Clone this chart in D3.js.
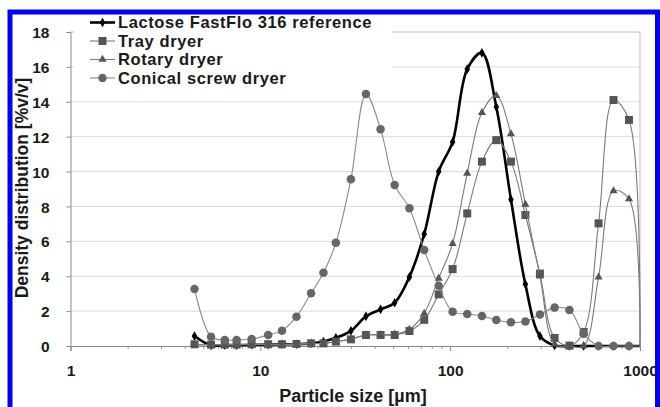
<!DOCTYPE html>
<html>
<head>
<meta charset="utf-8">
<script src="https://cdn.jsdelivr.net/npm/d3@7"></script>
<style>
	body { margin:0; background:#fff; }
	svg text { font-family:'Liberation Sans', Arial, sans-serif; font-weight:bold; fill:#1a1a1a; }
</style>
</head>
<body>
<svg id="chart" width="660" height="407"></svg>
<script>
// particle size classes [um]
var sizes = [4.5, 5.5, 6.5, 7.5, 9, 11, 13, 15.5, 18.5, 21.5, 25, 30, 36, 43, 51, 61, 73, 87, 103, 123, 147, 175, 209, 249, 297, 355, 425, 505, 605, 725, 875, 1000];

var lactose = [0.57, 0.03, 0.05, 0.05, 0.07, 0.08, 0.1, 0.1, 0.15, 0.26, 0.47, 0.87, 1.7, 2.1, 2.48, 3.96, 6.42, 10.0, 11.7, 15.87, 16.8, 13.7, 8.4, 3.54, 0.57, 0.03, 0, 0, 0, 0, 0, 0];
var tray = [0.1, 0.08, 0.08, 0.08, 0.1, 0.1, 0.1, 0.12, 0.15, 0.15, 0.25, 0.38, 0.63, 0.63, 0.63, 0.86, 1.5, 2.96, 4.41, 7.6, 10.57, 11.8, 10.57, 7.51, 4.15, 0.46, 0.02, 0.8, 7.03, 14.1, 12.96, 0];
var rotary = [0.08, 0.06, 0.06, 0.06, 0.08, 0.08, 0.08, 0.1, 0.12, 0.15, 0.25, 0.4, 0.63, 0.65, 0.68, 0.95, 1.87, 3.88, 5.87, 9.9, 13.38, 14.35, 12.16, 8.12, 4.0, 0.1, 0, 0, 3.95, 8.89, 8.43, 0];
var conical = [3.27, 0.53, 0.34, 0.34, 0.4, 0.63, 0.88, 1.68, 3.02, 4.2, 5.92, 9.56, 14.45, 12.43, 9.23, 7.9, 5.5, 3.45, 1.97, 1.83, 1.72, 1.49, 1.36, 1.4, 1.8, 2.2, 2.06, 0.7, 0, 0, 0, 0];

var seriesNames = ['Lactose FastFlo 316 reference', 'Tray dryer', 'Rotary dryer', 'Conical screw dryer'];
var yTicks = [0, 2, 4, 6, 8, 10, 12, 14, 16, 18];
var xTicks = [1, 10, 100, 1000];

var svg = d3.select('#chart');
var x = d3.scaleLog().domain([1, 1000]).range([70.5, 640]);
var y = d3.scaleLinear().domain([0, 18]).range([346, 32]);

var series = [
	{ name:seriesNames[0], values:lactose, line:'#000', width:2.6, marker:'diamond', fill:'#000', size:7 },
	{ name:seriesNames[1], values:tray, line:'#7a7a7a', width:1.1, marker:'square', fill:'#555', size:8 },
	{ name:seriesNames[2], values:rotary, line:'#7a7a7a', width:1.1, marker:'triangle', fill:'#555', size:8 },
	{ name:seriesNames[3], values:conical, line:'#8a8a8a', width:1.1, marker:'circle', fill:'#666', size:8.5 }
];

// gridlines
svg.append('g').selectAll('line').data(yTicks.slice(1)).enter()
	.append('line')
	.attr('x1', x(1)).attr('x2', x(1000))
	.attr('y1', function(d) { return y(d); }).attr('y2', function(d) { return y(d); })
	.attr('stroke', function(d) { return d == 18 ? '#bbb' : '#dcdcdc'; })
	.attr('stroke-width', 1);
svg.append('line')
	.attr('x1', x(1000)).attr('x2', x(1000)).attr('y1', y(18)).attr('y2', y(0))
	.attr('stroke', '#bbb');

// y axis
var yAxis = d3.axisLeft(y).tickValues(yTicks).tickSize(4).tickPadding(17);
var gy = svg.append('g').attr('transform', 'translate(' + x(1) + ',0)').call(yAxis);
gy.selectAll('path, line').attr('stroke', '#888');
gy.selectAll('text').style('font-size', '15.5px').attr('dy', '0.36em');

// x axis with minor ticks
var minor = [];
[1, 10, 100].forEach(function(d) { for (var k = 2; k < 10; k++) minor.push(d * k); });
var gxm = svg.append('g').attr('transform', 'translate(0,' + y(0) + ')')
	.call(d3.axisBottom(x).tickValues(minor).tickSize(3).tickFormat(''));
gxm.select('path').remove();
gxm.selectAll('line').attr('stroke', '#999');
var gx = svg.append('g').attr('transform', 'translate(0,' + y(0) + ')')
	.call(d3.axisBottom(x).tickValues(xTicks).tickSize(5).tickPadding(14).tickFormat(d3.format('d')));
gx.selectAll('path, line').attr('stroke', '#888');
gx.selectAll('text').style('font-size', '15.5px');

// axis titles
svg.append('text').attr('x', 353).attr('y', 402).attr('text-anchor', 'middle')
	.style('font-size', '18px').text('Particle size [\u00b5m]');
svg.append('text').attr('transform', 'translate(28,188) rotate(-90)').attr('text-anchor', 'middle')
	.style('font-size', '17.5px').text('Density distribution [%v/v]');

// legend background hides the upper grid
svg.append('rect').attr('x', 74).attr('y', 13).attr('width', 318).attr('height', 76).attr('fill', '#fff');

var symbols = { diamond:d3.symbolDiamond, square:d3.symbolSquare, triangle:d3.symbolTriangle, circle:d3.symbolCircle };
function markerPath(s) {
	var area = s.marker == 'circle' ? Math.PI * s.size * s.size / 4 :
		s.marker == 'square' ? s.size * s.size :
		s.marker == 'diamond' ? s.size * s.size * 0.55 : s.size * s.size * 0.45;
	return d3.symbol().type(symbols[s.marker]).size(area)();
}

var line = d3.line().curve(d3.curveCatmullRom.alpha(0.5))
	.x(function(d) { return x(d[0]); })
	.y(function(d) { return y(d[1]); });

series.forEach(function(s) {
	var pts = sizes.map(function(v, i) { return [v, s.values[i]]; });
	var g = svg.append('g');
	g.append('path').attr('d', line(pts)).attr('fill', 'none')
		.attr('stroke', s.line).attr('stroke-width', s.width).attr('stroke-linejoin', 'round');
	g.selectAll('path.mk').data(pts.slice(0, -1)).enter()
		.append('path').attr('class', 'mk')
		.attr('d', markerPath(s))
		.attr('transform', function(d) { return 'translate(' + x(d[0]) + ',' + y(d[1]) + ')'; })
		.attr('fill', s.fill);
});

// legend
var lg = svg.append('g').selectAll('g').data(series).enter()
	.append('g').attr('transform', function(d, i) { return 'translate(90,' + (22.5 + i * 18.5) + ')'; });
lg.append('line').attr('x1', 0).attr('x2', 25).attr('y1', 0).attr('y2', 0)
	.attr('stroke', function(d) { return d.line; }).attr('stroke-width', function(d) { return d.width; });
lg.append('path').attr('d', function(d) { return markerPath(d); })
	.attr('transform', 'translate(12.5,0)').attr('fill', function(d) { return d.fill; });
lg.append('text').attr('x', 28).attr('y', 0).attr('dy', '0.36em')
	.style('font-size', '16.5px').style('letter-spacing', '0.6px').text(function(d) { return d.name; });

// blue frame
svg.append('path').attr('d', 'M10,407 V12 H657.5 V407')
	.attr('fill', 'none').attr('stroke', '#0000f0').attr('stroke-width', 5);
</script>
</body>
</html>
